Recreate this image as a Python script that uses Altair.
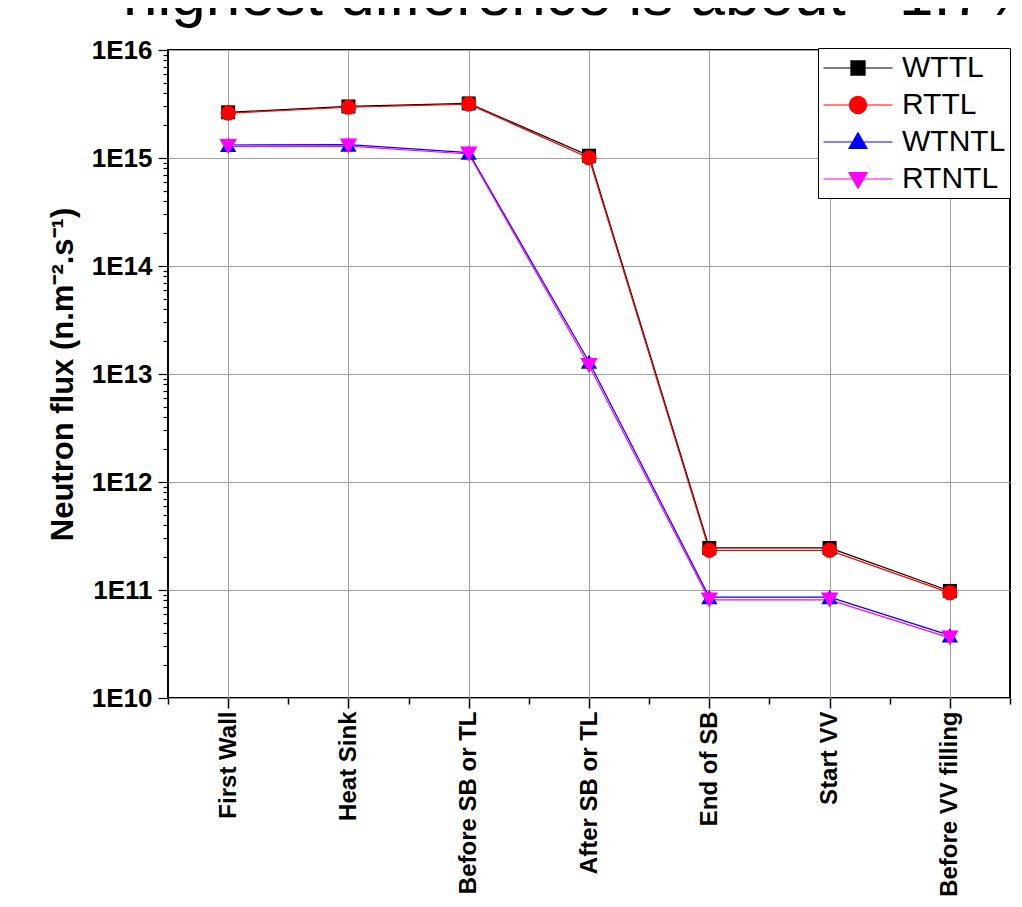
import altair as alt
import pandas as pd

categories = ["First Wall", "Heat Sink", "Before SB or TL", "After SB or TL",
              "End of SB", "Start VV", "Before VV filling"]
series_names = ["WTTL", "RTTL", "WTNTL", "RTNTL"]
series_colors = ["#000000", "#ff0000", "#0000ff", "#ff00ff"]
wttl = [2.65e15, 3.0e15, 3.2e15, 1.05e15, 2.45e11, 2.45e11, 9.8e10]
rttl = [2.6e15, 2.95e15, 3.15e15, 1.0e15, 2.33e11, 2.33e11, 9.4e10]
wtntl = [1.32e15, 1.33e15, 1.12e15, 1.3e13, 8.6e10, 8.6e10, 3.8e10]
rtntl = [1.28e15, 1.29e15, 1.09e15, 1.2e13, 8.1e10, 8.1e10, 3.6e10]
title_text = ["highest difference is about ~1.7%"]
y_title = "Neutron flux (n.m\u207b\u00b2.s\u207b\u00b9)"
x_title = "Component"

rows = []
for k, (name, vals) in enumerate(zip(series_names, [wttl, rttl, wtntl, rtntl])):
    for i, v in enumerate(vals):
        rows.append({"series": name, "sidx": k, "idx": i, "cat": categories[i], "flux": v})
df = pd.DataFrame(rows)

# tick values
y_ticks = []
for e in range(10, 16):
    for m in range(1, 10):
        y_ticks.append(m * 10.0 ** e)
y_ticks.append(1e16)
x_ticks = [i * 0.5 - 0.5 for i in range(15)]

cat_js = "[" + ",".join("'" + c + "'" for c in categories) + "]"

is_decade = "abs(log(datum.value)/LN10 - round(log(datum.value)/LN10)) < 0.001"
is_int = "abs(datum.value - round(datum.value)) < 0.001"

x_enc = alt.X(
    "idx:Q",
    scale=alt.Scale(domain=[-0.5, 6.5], nice=False, zero=False),
    axis=alt.Axis(
        title=x_title,
        values=x_ticks,
        labelExpr=f"{is_int} ? {cat_js}[round(datum.value)] : ''",
        labelAngle=-90,
        labelAlign="right",
        labelBaseline="middle",
        labelFont="Liberation Sans",
        labelFontWeight="bold",
        labelFontSize=24,
        labelColor="#000000",
        labelPadding=3,
        labelOverlap=False,
        labelFlush=False,
        labelLimit=0,
        tickColor="#000000",
        tickWidth=1.5,
        tickSize={"condition": {"test": is_int, "value": 10}, "value": 6},
        grid=True,
        gridColor="#a0a0a0",
        gridWidth=1,
        gridOpacity={"condition": {"test": is_int, "value": 1}, "value": 0},
        domain=False,
        titleFont="Liberation Sans",
        titleFontWeight="bold",
        titleFontSize=30,
        titleColor="#000000",
        titleBaseline="top",
        titleY=194,
    ),
)

y_enc = alt.Y(
    "flux:Q",
    scale=alt.Scale(type="log", domain=[1e10, 1e16], nice=False),
    axis=alt.Axis(
        title=y_title,
        values=y_ticks,
        labelExpr=f"{is_decade} ? '1E' + round(log(datum.value)/LN10) : ''",
        labelFont="Liberation Sans",
        labelFontWeight="bold",
        labelFontSize=26,
        labelColor="#000000",
        labelPadding=6,
        labelOverlap=False,
        labelFlush=False,
        tickColor="#000000",
        tickWidth=1.2,
        tickSize={"condition": {"test": is_decade, "value": 10}, "value": 5},
        grid=True,
        gridColor="#a0a0a0",
        gridWidth=1,
        gridOpacity={"condition": {"test": is_decade, "value": 1}, "value": 0},
        domain=False,
        titleFont="Liberation Sans",
        titleFontWeight="bold",
        titleFontSize=31,
        titleColor="#000000",
        titlePadding=12,
    ),
)

color_scale = alt.Scale(domain=series_names, range=series_colors)

lines = alt.Chart(df).mark_line(strokeWidth=1.2).encode(
    x=x_enc, y=y_enc,
    color=alt.Color("series:N", scale=color_scale, legend=None),
    detail="series:N",
)

points = alt.Chart(df).mark_point(filled=True, opacity=1, strokeWidth=0).encode(
    x=alt.X("idx:Q"), y=alt.Y("flux:Q"),
    color=alt.Color("series:N", scale=color_scale, legend=None),
    shape=alt.Shape("series:N",
                    scale=alt.Scale(domain=series_names,
                                    range=["square", "circle", "triangle-up", "triangle-down"]),
                    legend=None),
    size=alt.Size("series:N",
                  scale=alt.Scale(domain=series_names, range=[196, 300, 260, 260]),
                  legend=None),
    order=alt.Order("sidx:Q"),
)

legend_paths = [
    "M-2.3,0H2.3M-0.47,-0.47H0.47V0.47H-0.47Z",
    "M-2.3,0H2.3M0.57,0A0.57,0.57,0,1,1,-0.57,0A0.57,0.57,0,1,1,0.57,0Z",
    "M-2.3,0H2.3M0,-0.62L0.6,0.42L-0.6,0.42Z",
    "M-2.3,0H2.3M0,0.62L0.6,-0.42L-0.6,-0.42Z",
]

legend_layer = alt.Chart(df).mark_point(filled=True, opacity=1).encode(
    x=alt.X("idx:Q"), y=alt.Y("flux:Q"),
    fill=alt.Fill("series:N", scale=alt.Scale(domain=series_names, range=series_colors),
                  legend=alt.Legend(title=None)),
    stroke=alt.Stroke("series:N", scale=alt.Scale(domain=series_names, range=series_colors),
                      legend=alt.Legend(title=None)),
    shape=alt.Shape("series:N", scale=alt.Scale(domain=series_names, range=legend_paths),
                    legend=alt.Legend(title=None)),
).transform_filter("false")

# large heading partly above the visible page (as in the reference)
title_layer = alt.Chart(pd.DataFrame({"t": title_text})).mark_text(
    font="Liberation Sans", fontSize=62, color="#000000",
    align="left", baseline="alphabetic",
).encode(
    text="t:N",
    x=alt.value(-45),
    y=alt.value(-35),
)

chart = alt.layer(lines, points, legend_layer, title_layer).resolve_scale(
    shape="independent", fill="independent", stroke="independent"
).properties(
    width=842,
    height=648,
    autosize=alt.AutoSizeParams(type="none"),
    padding={"left": 160, "top": 42, "right": 4, "bottom": 199},
).configure_view(
    stroke="#000000", strokeWidth=2
).configure_legend(
    orient="none",
    legendX=650,
    legendY=-2,
    strokeColor="#000000",
    fillColor="#ffffff",
    padding=4,
    labelFont="Liberation Sans",
    labelFontSize=30,
    labelColor="#000000",
    symbolSize=900,
    symbolStrokeWidth=1.2,
    symbolOffset=20,
    labelOffset=28,
    rowPadding=6,
    cornerRadius=0,
)

chart.save("out.html", embed_options={"renderer": "svg", "actions": False})
